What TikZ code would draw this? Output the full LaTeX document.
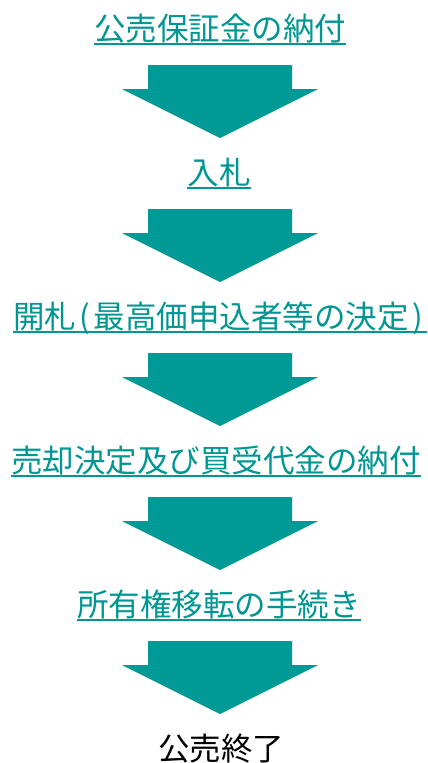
\documentclass[tikz,border=0pt]{standalone}
\usepackage{fontspec}
\setmainfont{Noto Sans CJK JP}
\definecolor{arrowteal}{RGB}{0,154,150}
\definecolor{linkteal}{RGB}{0,150,146}
\tikzset{
  linktext/.style={font=\fontsize{31.5pt}{36pt}\selectfont, text=linkteal, inner sep=0pt, anchor=base},
  endtext/.style={font=\fontsize{31.5pt}{36pt}\selectfont, text=black, inner sep=0pt, anchor=base},
  ulline/.style={draw=linkteal, line width=2pt},
  downarrow/.pic={\fill[arrowteal] (-72pt,0pt) -- (72pt,0pt) -- (72pt,-24pt) -- (98pt,-24pt) -- (0pt,-73pt) -- (-98pt,-24pt) -- (-72pt,-24pt) -- cycle;}
}
\begin{document}
\begin{tikzpicture}
\useasboundingbox (0pt,0pt) rectangle (428pt,-763pt);
\node[linktext] (t1) at (220pt,-40pt) {公売保証金の納付};
\node[linktext] (t2) at (219pt,-184pt) {入札};
\node[linktext] (t3) at (220pt,-328pt) {開札\makebox[18pt]{(}最高価申込者等の決定\makebox[18pt]{)}};
\node[linktext] (t4) at (216pt,-472pt) {売却決定及び買受代金の納付};
\node[linktext] (t5) at (219pt,-616pt) {所有権移転の手続き};
\node[endtext] (t6) at (221pt,-760pt) {公売終了};
\foreach \n in {t1,t2,t3,t4,t5}{
  \draw[ulline] ([yshift=-3.5pt]\n.base west) -- ([yshift=-3.5pt]\n.base east);
}
\foreach \k in {0,1,2,3,4}{
  \pic at (220pt,{-65pt-144pt*\k}) {downarrow};
}
\end{tikzpicture}
\end{document}
